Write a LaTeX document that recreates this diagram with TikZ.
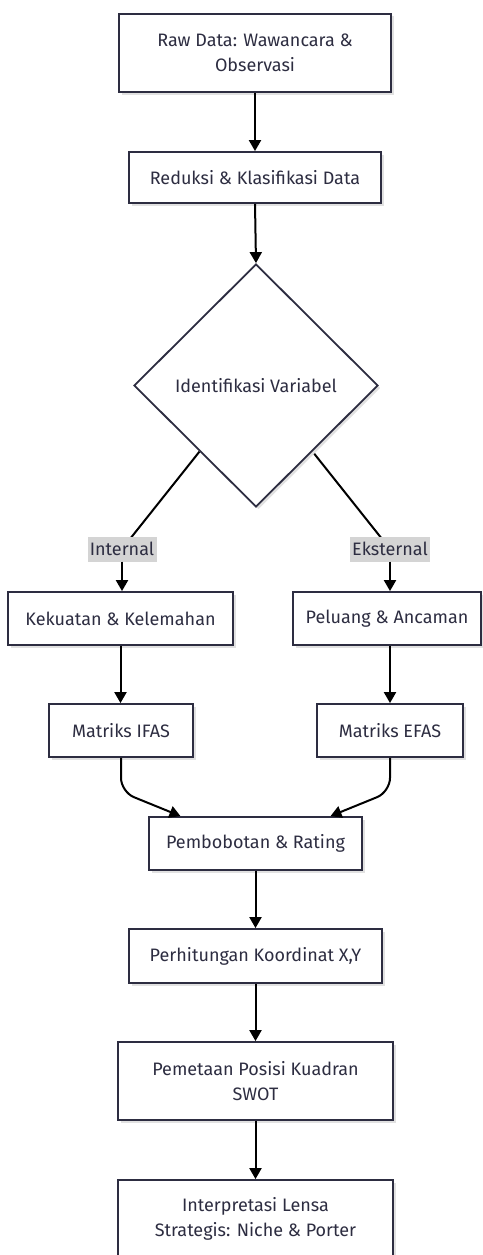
\documentclass[tikz,border=0pt]{standalone}
\usepackage{fontspec}
\setmainfont{Fira Sans}
\usetikzlibrary{shapes.geometric,arrows.meta,calc,backgrounds,shadows}
\definecolor{ink}{RGB}{45,45,65}
\definecolor{lblbg}{RGB}{212,212,212}
\definecolor{shade}{RGB}{225,225,225}
\tikzset{
  x=1pt, y=-1pt,
  every node/.style={font=\fontsize{18}{24.5}\selectfont, text=ink},
  box/.style={draw=ink, line width=1.8pt, fill=white, rectangle, align=center, inner sep=0pt,
    drop shadow={shadow xshift=2.5pt, shadow yshift=-2.5pt, fill=shade, opacity=1}},
  dec/.style={draw=ink, line width=1.8pt, fill=white, diamond, aspect=1, inner sep=0pt,
    minimum width=244pt, minimum height=243pt,
    drop shadow={shadow xshift=2.5pt, shadow yshift=-2.5pt, fill=shade, opacity=1}},
  lbl/.style={fill=lblbg, inner sep=0pt, minimum width=#1, minimum height=25pt},
  arr/.style={draw=black, line width=2pt, -{Triangle[width=12pt,length=11pt]}},
  ln/.style={draw=black, line width=2pt},
}
\begin{document}
\begin{tikzpicture}
\useasboundingbox (0,0) rectangle (482,1255);
\node[box, minimum width=272pt, minimum height=78pt] (raw) at (255,53) {Raw Data: Wawancara \&\\Observasi};
\node[box, minimum width=252pt, minimum height=51pt] (red) at (255,177.5) {Reduksi \& Klasifikasi Data};
\node[dec] (dia) at (256,385.5) {Identifikasi Variabel};
\node[lbl=69pt] (int) at (122,549) {Internal};
\node[lbl=80pt] (eks) at (390,549) {Eksternal};
\node[box, minimum width=225pt, minimum height=53pt] (kek) at (120.5,618.5) {Kekuatan \& Kelemahan};
\node[box, minimum width=188pt, minimum height=53pt] (pel) at (387,618.5) {Peluang \& Ancaman};
\node[box, minimum width=144pt, minimum height=53pt] (ifas) at (121,730.5) {Matriks IFAS};
\node[box, minimum width=146pt, minimum height=53pt] (efas) at (390,730.5) {Matriks EFAS};
\node[box, minimum width=213pt, minimum height=53pt] (pemb) at (255.5,843.5) {Pembobotan \& Rating};
\node[box, minimum width=253pt, minimum height=54pt] (perh) at (255.5,956) {Perhitungan Koordinat X,Y};
\node[box, minimum width=275pt, minimum height=78pt] (pemet) at (255.5,1081) {Pemetaan Posisi Kuadran\\SWOT};
\node[box, minimum width=275pt, minimum height=78pt] (interp) at (255.5,1219) {Interpretasi Lensa\\Strategis: Niche \& Porter};
\begin{pgfonlayer}{background}
\draw[ln] ($(dia.west)!0.54!(dia.south)$) -- (int.center);
\draw[ln] ($(dia.east)!0.54!(dia.south)$) -- (eks.center);
\end{pgfonlayer}
\draw[arr] (raw.south) -- (red.north);
\draw[arr] (red.south) -- (dia.north);
\draw[arr] (int.south) -- (int.south |- kek.north);
\draw[arr] (eks.south) -- (eks.south |- pel.north);
\draw[arr] (kek.south) -- (kek.south |- ifas.north);
\draw[arr] (pel.south -| efas.north) -- (efas.north);
\draw[arr, rounded corners=14pt] (ifas.south) -- ($(ifas.south)+(0,34)$) -- ($(pemb.north)+(-75,0)$);
\draw[arr, rounded corners=14pt] (efas.south) -- ($(efas.south)+(0,34)$) -- ($(pemb.north)+(75,0)$);
\draw[arr] (pemb.south) -- (perh.north);
\draw[arr] (perh.south) -- (pemet.north);
\draw[arr] (pemet.south) -- (interp.north);
\end{tikzpicture}
\end{document}
